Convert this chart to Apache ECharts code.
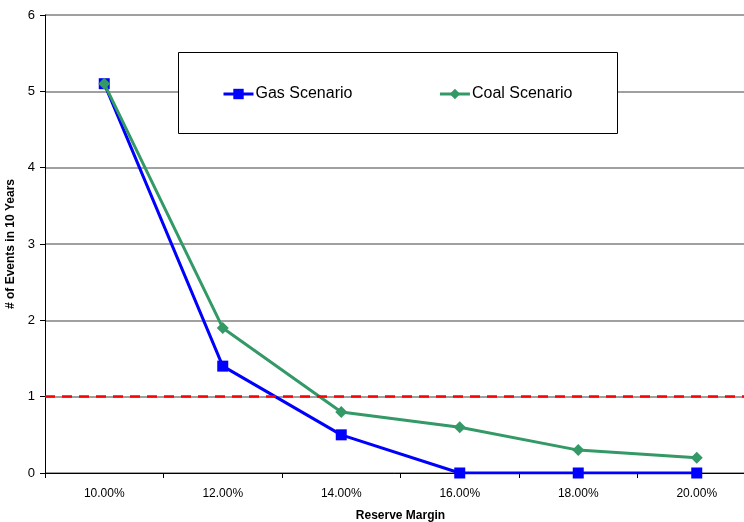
<!DOCTYPE html>
<html><head><meta charset="utf-8">
<script src="https://cdn.jsdelivr.net/npm/echarts@6/dist/echarts.min.js"></script>
<style>html,body{margin:0;padding:0;background:#fff}#c{width:744px;height:522px}</style>
</head><body><div id="c"></div>
<script>
const categories = ['10.00%','12.00%','14.00%','16.00%','18.00%','20.00%'];
const gasValues = [5.1, 1.4, 0.5, 0, 0, 0];
const coalValues = [5.1, 1.9, 0.8, 0.6, 0.3, 0.2];
const thresholdValue = 1;
const yTicks = [0,1,2,3,4,5,6];

const chart = echarts.init(document.getElementById('c'));
const F = '"Liberation Sans", Arial, sans-serif';
chart.setOption({
  animation: false,
  textStyle: {fontFamily: F},
  grid: {left: 45, width: 711, top: 15, height: 458, outerBoundsMode: 'none', containLabel: false},
  graphic: [{
    type: 'rect', left: 178, top: 52, z: 5,
    shape: {width: 439, height: 81},
    style: {fill: '#fff', stroke: '#000', lineWidth: 1}
  }],
  legend: {
    data: ['Gas Scenario', 'Coal Scenario'],
    left: 222, top: 86, z: 10, padding: 0,
    itemWidth: 30, itemHeight: 13, itemGap: 86,
    lineStyle: {width: 3},
    textStyle: {fontFamily: F, fontSize: 16, color: '#000', padding: [0,0,0,-3]}
  },
  xAxis: {
    type: 'category', data: categories, boundaryGap: true,
    name: 'Reserve Margin', nameLocation: 'middle', nameGap: 37,
    nameTextStyle: {fontFamily: F, fontSize: 12, fontWeight: 'bold', color: '#000'},
    axisLine: {lineStyle: {color: '#000', width: 1}},
    axisTick: {show: true, length: 5, lineStyle: {color: '#000'}},
    axisLabel: {fontFamily: F, fontSize: 12, color: '#000', margin: 15}
  },
  yAxis: {
    type: 'value', min: 0, max: 6, interval: 1,
    name: '# of Events in 10 Years', nameLocation: 'middle', nameGap: 25,
    nameTextStyle: {fontFamily: F, fontSize: 12, fontWeight: 'bold', color: '#000'},
    axisLine: {show: true, lineStyle: {color: '#000', width: 1}},
    axisTick: {show: true, length: 5, lineStyle: {color: '#000'}},
    axisLabel: {fontFamily: F, fontSize: 13, color: '#000', margin: 10,
      formatter: v => yTicks.includes(v) ? String(v) : ''},
    splitLine: {lineStyle: {color: '#808080', width: 1.5}}
  },
  series: [
    {
      name: 'Gas Scenario', type: 'line', data: gasValues,
      symbol: 'rect', symbolSize: 11,
      itemStyle: {color: '#0000ff'},
      lineStyle: {color: '#0000ff', width: 3},
      z: 3,
      markLine: {
        silent: true, symbol: 'none', label: {show: false},
        lineStyle: {color: '#ff0000', type: [10, 7], width: 2.5},
        data: [{yAxis: thresholdValue}]
      }
    },
    {
      name: 'Coal Scenario', type: 'line', data: coalValues,
      symbol: 'diamond', symbolSize: 12,
      itemStyle: {color: '#339966'},
      lineStyle: {color: '#339966', width: 3},
      z: 4
    }
  ]
});
</script></body></html>
